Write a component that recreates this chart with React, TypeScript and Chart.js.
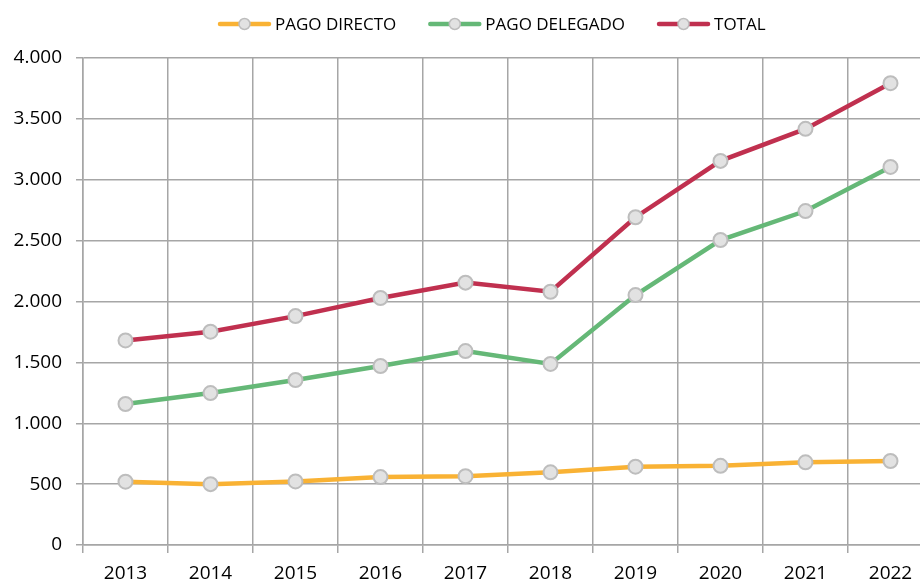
import React, { useEffect, useRef } from "react";
import { Chart, registerables } from "chart.js";

Chart.register(...registerables);

const years = ["2013", "2014", "2015", "2016", "2017", "2018", "2019", "2020", "2021", "2022"];
const pagoDirecto = [520, 500, 522, 558, 565, 597, 643, 650, 679, 690];
const pagoDelegado = [1158, 1248, 1355, 1470, 1593, 1487, 2053, 2505, 2743, 3105];
const total = [1680, 1752, 1880, 2029, 2155, 2080, 2692, 3155, 3418, 3793];
const yTickLabels = ["0", "500", "1.000", "1.500", "2.000", "2.500", "3.000", "3.500", "4.000"];

const seriesNames = ["PAGO DIRECTO", "PAGO DELEGADO", "TOTAL"];
const seriesColors = ["#F9B234", "#65B877", "#C0304F"];

const FONT = "'Open Sans', sans-serif";

const legendPlugin = {
  id: "customLegend",
  afterDraw(chart: any) {
    const ctx = chart.ctx;
    ctx.save();
    ctx.font = `17px ${FONT}`;
    ctx.textBaseline = "middle";
    let x = 218;
    const y = 24;
    chart.data.datasets.forEach((ds: any) => {
      ctx.strokeStyle = ds.borderColor;
      ctx.lineWidth = 4.5;
      ctx.lineCap = "round";
      ctx.beginPath();
      ctx.moveTo(x + 2, y);
      ctx.lineTo(x + 51, y);
      ctx.stroke();
      ctx.beginPath();
      ctx.arc(x + 26.5, y, 5.5, 0, Math.PI * 2);
      ctx.fillStyle = "#E2E2E2";
      ctx.fill();
      ctx.lineWidth = 1.5;
      ctx.strokeStyle = "#BDBDBD";
      ctx.stroke();
      ctx.fillStyle = "#000000";
      ctx.fillText(ds.label, x + 57, y + 1);
      const w = ctx.measureText(ds.label).width;
      x += 57 + w + 32;
    });
    ctx.restore();
  },
};

export default function App() {
  const ref = useRef<HTMLCanvasElement | null>(null);
  useEffect(() => {
    document.body.style.margin = "0";
    const mk = (i: number, data: number[]) => ({
      label: seriesNames[i],
      data,
      borderColor: seriesColors[i],
      backgroundColor: seriesColors[i],
      borderWidth: 4.5,
      pointRadius: 7,
      pointBorderWidth: 2,
      pointBackgroundColor: "#E2E2E2",
      pointBorderColor: "#BDBDBD",
      tension: 0,
    });
    const chart = new Chart(ref.current as HTMLCanvasElement, {
      type: "line",
      data: {
        labels: years,
        datasets: [mk(0, pagoDirecto), mk(1, pagoDelegado), mk(2, total)],
      },
      options: {
        animation: false,
        responsive: false,
        devicePixelRatio: 1,
        layout: { padding: { top: 58, left: 0, right: 27, bottom: 0 } },
        plugins: { legend: { display: false }, tooltip: { enabled: false } },
        events: [],
        scales: {
          x: {
            offset: true,
            grid: { offset: true, color: "#A6A6A6", lineWidth: 1.5, tickLength: 8, drawTicks: true },
            border: { color: "#A6A6A6", width: 1.5 },
            ticks: { color: "#000", font: { family: FONT, size: 19 }, padding: 9, maxRotation: 0, autoSkip: false },
            afterFit: (s: any) => { s.height = 35; },
          },
          y: {
            min: 0,
            max: 4000,
            grid: { color: "#A6A6A6", lineWidth: 1.5, tickLength: 7 },
            border: { color: "#A6A6A6", width: 1.5 },
            ticks: {
              stepSize: 500,
              color: "#000",
              font: { family: FONT, size: 19 },
              padding: 14,
              callback: (_v: any, i: number) => yTickLabels[i],
            },
            afterFit: (s: any) => { s.width = 83; },
          },
        },
      },
      plugins: [legendPlugin],
    });
    return () => chart.destroy();
  }, []);
  return (
    <div style={{ position: "absolute", left: 0, top: 0, width: 960, height: 580 }}>
      <canvas ref={ref} width={960} height={580} />
    </div>
  );
}
